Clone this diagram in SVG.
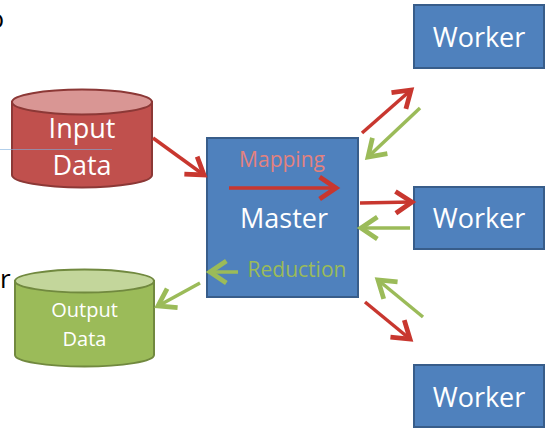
<svg xmlns="http://www.w3.org/2000/svg" width="550" height="436" viewBox="0 0 550 436">
<style>
text{font-family:"Open Sans","Liberation Sans",sans-serif;text-anchor:middle}
.w{fill:#ffffff}
.box{fill:#4F81BD;stroke:#385D8A;stroke-width:2}
.big{font-size:27px}
.red{stroke:#C8372F;stroke-width:3.5;fill:none}
.grn{stroke:#9BBB59;stroke-width:3.5;fill:none}
</style>
<defs>
<marker id="hr" markerUnits="userSpaceOnUse" markerWidth="30" markerHeight="30" viewBox="-16 -11 20 22" refX="0" refY="0" orient="auto">
<path d="M-12,-8 L0,0 L-12,8" fill="none" stroke="#C8372F" stroke-width="3.5"/>
</marker>
<marker id="hg" markerUnits="userSpaceOnUse" markerWidth="30" markerHeight="30" viewBox="-16 -11 20 22" refX="0" refY="0" orient="auto">
<path d="M-12,-8 L0,0 L-12,8" fill="none" stroke="#9BBB59" stroke-width="3.5"/>
</marker>
</defs>
<rect width="550" height="436" fill="#ffffff"/>
<text x="-11.5" y="28" style="font-size:26px;text-anchor:start;fill:#000">o</text>
<text x="0" y="288" style="font-size:26px;text-anchor:start;fill:#000">r</text>
<g id="input">
<path d="M12,102 L12,175 A70,12.5 0 0 0 152,175 L152,102 Z" fill="#C0504D" stroke="#8C3836" stroke-width="2"/>
<ellipse cx="82" cy="102" rx="70" ry="12.5" fill="#D99694" stroke="#8C3836" stroke-width="2"/>
<text x="82" y="138" class="w big">Input</text>
<text x="82" y="175" class="w big">Data</text>
</g>
<line x1="0" y1="149.5" x2="112" y2="149.5" stroke="#7FB0DE" stroke-width="1" opacity="0.6"/>
<g id="output">
<path d="M15,281 L15,355 A69.5,11.5 0 0 0 154,355 L154,281 Z" fill="#9BBB59" stroke="#71893F" stroke-width="2"/>
<ellipse cx="84.5" cy="281" rx="69.5" ry="11.5" fill="#C3D69B" stroke="#71893F" stroke-width="2"/>
<text x="84.5" y="317" class="w" style="font-size:20px">Output</text>
<text x="84.5" y="346" class="w" style="font-size:20px">Data</text>
</g>
<g id="master">
<rect x="207" y="138" width="151" height="159" class="box"/>
<text x="282" y="167" style="font-size:21px;fill:#E3827F">Mapping</text>
<text x="284" y="228" class="w big">Master</text>
<text x="297" y="277" style="font-size:21px;fill:#9BBB59">Reduction</text>
<line x1="229" y1="188" x2="336" y2="188" class="red" marker-end="url(#hr)"/>
<line x1="238" y1="272" x2="210" y2="272" class="grn" marker-end="url(#hg)"/>
</g>
<g id="worker1">
<rect x="414" y="5" width="130" height="63" class="box"/>
<text x="479" y="47" class="w big">Worker</text>
</g>
<g id="worker2">
<rect x="414" y="187" width="130" height="62" class="box"/>
<text x="479" y="228" class="w big">Worker</text>
</g>
<g id="worker3">
<rect x="414" y="365" width="130" height="62" class="box"/>
<text x="479" y="407" class="w big">Worker</text>
</g>
<g id="connectors">
<line x1="153" y1="138" x2="204" y2="175" class="red" marker-end="url(#hr)"/>
<line x1="362" y1="133" x2="411" y2="90" class="red" marker-end="url(#hr)"/>
<line x1="420" y1="108" x2="368" y2="157" class="grn" marker-end="url(#hg)"/>
<line x1="360" y1="203" x2="412" y2="202" class="red" marker-end="url(#hr)"/>
<line x1="410" y1="228" x2="361" y2="228" class="grn" marker-end="url(#hg)"/>
<line x1="423" y1="317" x2="378" y2="280" class="grn" marker-end="url(#hg)"/>
<line x1="365" y1="302" x2="410" y2="339" class="red" marker-end="url(#hr)"/>
<line x1="200" y1="283" x2="158" y2="306" class="grn" marker-end="url(#hg)"/>
</g>
</svg>
